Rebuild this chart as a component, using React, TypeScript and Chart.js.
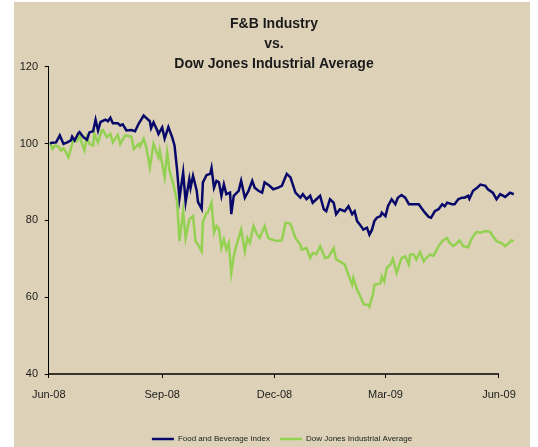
import React, { useEffect, useRef } from "react";
import { Chart, registerables } from "chart.js";

Chart.register(...registerables);

// Title and legend text
const titleLines = ["F&B Industry", "vs.", "Dow Jones Industrial Average"];
const seriesNames = ["Food and Beverage Index", "Dow Jones Industrial Average"];

// X axis: days since 1 Jun 2008, with month tick labels
const tickDays = [0, 92, 183, 273, 365];
const tickLabels = ["Jun-08", "Sep-08", "Dec-08", "Mar-09", "Jun-09"];
const xMaxDay = 378; // the series run a little past the last labelled month

// Food and Beverage Index (rebased to 100)
const fbDays = [
  1, 3, 6, 9, 12, 15, 18, 19, 21, 24, 25, 28, 31, 33, 36, 38, 40, 42, 46, 48,
  50, 52, 56, 58, 60, 63, 67, 70, 73, 77, 79, 82, 83, 85, 88, 89, 92, 94, 97, 100,
  102, 104, 106, 109, 111, 114, 115, 117, 120, 121, 124, 125, 128, 131, 132, 134, 136, 138, 140, 142,
  144, 147, 148, 150, 154, 156, 159, 162, 165, 167, 170, 173, 175, 179, 182, 186, 189, 193, 196, 200,
  204, 206, 209, 212, 214, 217, 220, 223, 225, 228, 231, 233, 236, 240, 243, 246, 248, 250, 252, 254,
  255, 258, 260, 262, 264, 266, 269, 270, 273, 275, 278, 281, 283, 286, 289, 292, 296, 300, 302, 305,
  308, 310, 313, 316, 319, 321, 323, 327, 329, 332, 335, 337, 340, 341, 344, 347, 350, 354, 356, 360,
  363, 366, 370, 374, 377,
];
const fbValues = [
  100.1, 100.2, 100.3, 102.1, 99.9, 100.3, 100.8, 101.8, 100.8, 102.7, 103, 101.7, 101, 102.9, 103.2, 106.2, 103.4, 105.6, 106.2, 105.8,
  106.7, 105.3, 105.3, 104.7, 105, 103.4, 103.5, 103.2, 105.2, 107.3, 106.7, 105.8, 104, 105.5, 103.4, 102.5, 104.2, 101.3, 104.3, 101.7,
  99.5, 93.4, 85.7, 92.5, 84.8, 90.7, 88.5, 91.6, 87.7, 84.8, 83, 89.9, 91.8, 92.1, 93.6, 88.5, 90.3, 89.9, 86.4, 89.4,
  86.8, 87.2, 81.6, 86.4, 87.7, 90.3, 85.9, 87.7, 90.3, 88.5, 87.7, 87.2, 89.9, 89, 88.1, 88.5, 89, 92.1, 91.2, 87.2,
  85.9, 86.8, 85.5, 86.4, 84.6, 85.5, 86.4, 82.9, 82.4, 85.5, 84.6, 81.6, 82.9, 82.4, 83.7, 81.6, 82.4, 79.8, 79, 78.1,
  77.6, 78.1, 76.3, 77.5, 79.8, 80.7, 81.1, 82, 81.1, 83.7, 85.5, 84.2, 85.9, 86.6, 85.9, 84.2, 84.2, 84.2, 83.3, 82,
  80.9, 80.7, 82.4, 82.9, 84.2, 83.7, 84.6, 84.2, 84.2, 85.5, 85.9, 85.9, 86.4, 85.6, 87.7, 88.4, 89.3, 89, 88.1, 87.2,
  85.5, 86.8, 86.1, 87.2, 86.8,
];

// Dow Jones Industrial Average (rebased to 100)
const djDays = [
  1, 3, 5, 8, 10, 12, 14, 16, 19, 20, 23, 25, 27, 29, 31, 33, 36, 37, 40, 43,
  44, 47, 50, 52, 56, 58, 62, 67, 69, 73, 74, 77, 79, 82, 85, 89, 90, 94, 96, 98,
  101, 104, 106, 109, 111, 114, 117, 119, 121, 124, 125, 128, 129, 132, 134, 136, 138, 140, 142, 144,
  146, 148, 150, 152, 156, 159, 161, 163, 166, 169, 171, 175, 178, 181, 185, 189, 192, 196, 200, 204,
  205, 209, 212, 214, 217, 220, 224, 227, 231, 233, 236, 240, 243, 246, 247, 250, 252, 255, 256, 259,
  260, 263, 264, 269, 270, 272, 274, 277, 279, 282, 286, 289, 292, 293, 296, 298, 301, 304, 306, 309,
  312, 316, 319, 321, 323, 325, 328, 331, 333, 336, 340, 342, 344, 347, 350, 354, 358, 360, 363, 367,
  370, 373, 375, 377,
];
const djValues = [
  100.3, 98.6, 99.5, 99.2, 98.2, 98.8, 97.7, 96.4, 99.9, 100.8, 100.6, 102.1, 99.9, 98.2, 101.7, 99.9, 99.5, 102.5, 100.3, 103.4,
  103.5, 101.7, 102.5, 100.3, 102.3, 99.9, 102.1, 101.8, 98.6, 99.9, 99.2, 101.2, 99.2, 93.8, 99.9, 96.4, 98.2, 91.2, 97.7, 92.9,
  89.4, 85.1, 74.6, 82.4, 75.4, 80.3, 81.1, 74.6, 73.7, 71.9, 79.6, 82, 82, 84.6, 76.8, 78.5, 77.8, 72.8, 75, 72.4,
  74.1, 66.3, 70.6, 73.3, 77.6, 71.9, 75.4, 74.1, 78.5, 76.3, 75.4, 78.5, 75.4, 75, 74.6, 74.8, 79.4, 79.1, 75.4, 73.7,
  72.4, 72.8, 70.2, 71.5, 71.2, 73.3, 70.2, 70.5, 72.8, 69.8, 69.3, 68.5, 65.8, 63.2, 65, 61.9, 60.6, 58.4, 58, 58,
  57.5, 61, 63.2, 63.6, 65.4, 64.1, 67.6, 68.5, 70, 66.3, 70.2, 70.6, 68.5, 71.1, 71.1, 69.8, 71.8, 69.3, 70.2, 71.1,
  70.8, 73.3, 74.6, 75, 75.4, 74.1, 73.3, 74.1, 74.8, 73.3, 73, 74.6, 75.9, 77, 76.8, 77.2, 77, 75.9, 74.6, 74.1,
  73.3, 74.1, 74.8, 74.6,
];

const fbColor = "#08086A";
const djColor = "#94D153";
const bgColor = "#DDD2B8";
const textColor = "#1a1a1a";

// Shifts the centred legend a little to the right, as in the original layout
const legendShift = {
  id: "legendShift",
  afterLayout(chart: any) {
    const lg = chart.legend;
    if (lg) {
      lg.left += 8;
      lg.right += 8;
    }
  },
};

// Draws the category axis line only between the first and last labelled month
const xAxisLine = {
  id: "xAxisLine",
  beforeDatasetsDraw(chart: any) {
    const xs = chart.scales.x;
    const ys = chart.scales.y;
    const ctx = chart.ctx;
    const yPix = ys.getPixelForValue(ys.min);
    ctx.save();
    ctx.strokeStyle = "#000";
    ctx.lineWidth = 1.5;
    ctx.beginPath();
    ctx.moveTo(xs.getPixelForValue(tickDays[0]), yPix);
    ctx.lineTo(xs.getPixelForValue(tickDays[tickDays.length - 1]), yPix);
    ctx.stroke();
    ctx.restore();
  },
};

export default function App() {
  const canvasRef = useRef<HTMLCanvasElement | null>(null);

  useEffect(() => {
    const canvas = canvasRef.current;
    if (!canvas) return;
    const chart = new Chart(canvas, {
      type: "line",
      data: {
        datasets: [
          {
            label: seriesNames[0],
            data: fbDays.map((d, i) => ({ x: d, y: fbValues[i] })),
            borderColor: fbColor,
            backgroundColor: fbColor,
            borderWidth: 2.5,
            pointRadius: 0,
            tension: 0,
            clip: false,
          },
          {
            label: seriesNames[1],
            data: djDays.map((d, i) => ({ x: d, y: djValues[i] })),
            borderColor: djColor,
            backgroundColor: djColor,
            borderWidth: 2.5,
            pointRadius: 0,
            tension: 0,
            clip: false,
          },
        ],
      },
      plugins: [legendShift, xAxisLine],
      options: {
        animation: false,
        responsive: false,
        maintainAspectRatio: false,
        devicePixelRatio: 1,
        layout: { padding: { top: 0, left: 4, right: 0, bottom: -6 } },
        plugins: {
          title: {
            display: true,
            text: titleLines,
            color: textColor,
            font: { family: "'Liberation Sans', Arial, sans-serif", size: 14, weight: "bold", lineHeight: 20 / 14 },
            padding: { top: 12, bottom: -7.3 },
          },
          legend: {
            display: true,
            position: "bottom",
            labels: {
              color: textColor,
              font: { family: "'Liberation Sans Narrow', 'Liberation Sans', Arial, sans-serif", size: 8 },
              usePointStyle: true,
              pointStyle: "line",
              pointStyleWidth: 22,
              padding: 10,
            },
          },
          tooltip: { enabled: false },
        },
        scales: {
          x: {
            type: "linear",
            min: 0,
            max: xMaxDay,
            afterBuildTicks: (scale: any) => {
              scale.ticks = tickDays.map((v) => ({ value: v }));
            },
            afterFit: (scale: any) => {
              scale.height = 51;
            },
            ticks: {
              color: textColor,
              font: { family: "'Liberation Sans', Arial, sans-serif", size: 11 },
              padding: 10,
              maxRotation: 0,
              autoSkip: false,
              callback: (value: any) => {
                const i = tickDays.indexOf(Number(value));
                return i >= 0 ? tickLabels[i] : "";
              },
            },
            grid: { display: true, drawOnChartArea: false, drawTicks: true, tickLength: 4, color: "#000" },
            border: { display: false },
          },
          y: {
            type: "linear",
            min: 40,
            max: 120,
            afterFit: (scale: any) => {
              scale.width = 30.7;
            },
            ticks: {
              stepSize: 20,
              color: textColor,
              font: { family: "'Liberation Sans', Arial, sans-serif", size: 11 },
              padding: 6.7,
            },
            grid: { display: true, drawOnChartArea: false, drawTicks: true, tickLength: 4, color: "#000" },
            border: { display: true, color: "#000", width: 1 },
          },
          yRight: {
            type: "linear",
            axis: "y",
            position: "right",
            display: true,
            min: 40,
            max: 120,
            afterFit: (scale: any) => {
              scale.width = 15;
            },
            ticks: { display: false },
            grid: { display: false, drawTicks: false },
            border: { display: false },
          },
        },
      },
    });
    return () => chart.destroy();
  }, []);

  return (
    <div
      style={{
        position: "absolute",
        left: 14,
        top: 2,
        width: 516,
        height: 445,
        background: bgColor,
        overflow: "hidden",
      }}
    >
      <canvas ref={canvasRef} width={516} height={445} style={{ display: "block" }} />
    </div>
  );
}
